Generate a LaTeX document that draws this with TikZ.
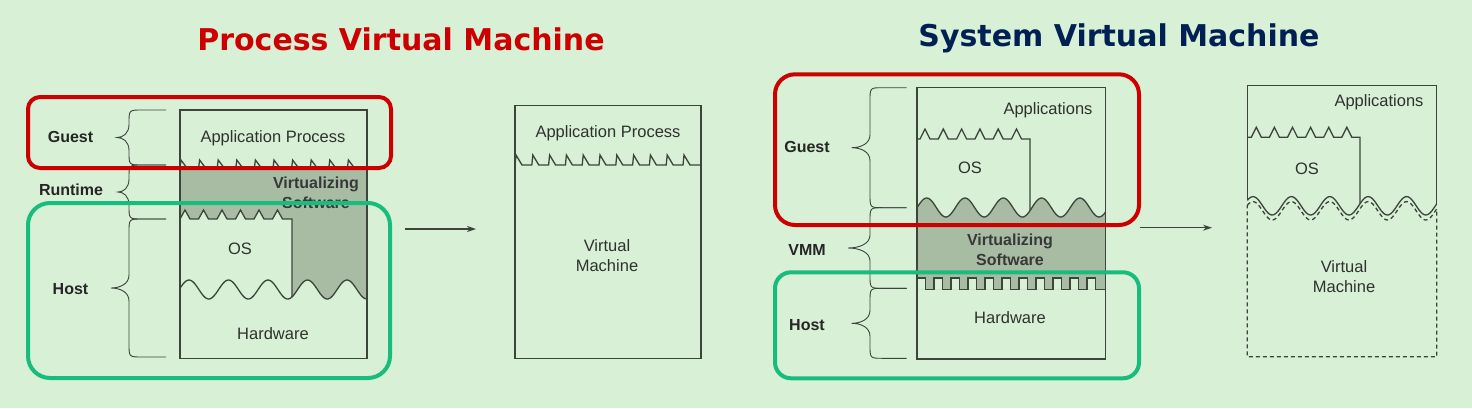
\documentclass[tikz,border=0pt]{standalone}
\usepackage{fontspec}
\setmainfont{Liberation Sans}
\newfontfamily\titlefont{DejaVu Sans}
\usetikzlibrary{arrows.meta}

\definecolor{bgreen}{RGB}{216,240,214}
\definecolor{vgray}{RGB}{168,188,164}
\definecolor{lined}{RGB}{60,68,60}
\definecolor{txt}{RGB}{46,50,46}
\definecolor{boxred}{RGB}{204,0,0}
\definecolor{boxgreen}{RGB}{24,188,124}
\definecolor{navy}{RGB}{0,32,84}

\tikzset{
	layer/.style = {draw=lined, line width=1.3pt},
	bracel/.style = {draw=lined, line width=0.9pt},
	lbl/.style = {font=\fontsize{16.5}{20}\selectfont, text=txt, align=center, inner sep=0pt},
	side/.style = {font=\bfseries\fontsize{16}{20}\selectfont, text=black!85, inner sep=0pt},
	vsoft/.style = {font=\bfseries\fontsize{16}{20}\selectfont, text=black!78, align=center, inner sep=0pt},
	ring/.style = {line width=4pt},
	heading/.style = {font=\titlefont\bfseries\fontsize{30}{36}\selectfont, inner sep=0pt}
}

% end x, stem x, tip x, top y, bottom y
\newcommand{\sidebrace}[5]{%
	\draw[bracel] (#1,#4) -- ({#2+13},#4) .. controls (#2,#4) .. (#2,{#4+13})
		-- (#2,{(#4+#5)/2-13}) .. controls (#2,{(#4+#5)/2-4}) and ({(#2+#3)/2},{(#4+#5)/2}) .. (#3,{(#4+#5)/2})
		.. controls ({(#2+#3)/2},{(#4+#5)/2}) and (#2,{(#4+#5)/2+4}) .. (#2,{(#4+#5)/2+13})
		-- (#2,{#5-13}) .. controls (#2,#5) .. ({#2+13},#5) -- (#1,#5);}

\begin{document}
\begin{tikzpicture}[x=1pt, y=-1pt]
		\fill[bgreen] (0,0) rectangle (1472,408);
		\useasboundingbox (0,0) rectangle (1472,408);
		
		\node[heading, text=boxred] (title1) at (401,39) {Process Virtual Machine};
		\node[heading, text=navy] (title2) at (1119,38) {System Virtual Machine};
		
		% process vm
		\fill[vgray] (180,168) -- (367,168) -- plot[domain=367:180, samples=120] (\x,{289.5-9.5*cos((\x-189)/39.5*360)}) -- cycle;
		\fill[bgreen] (180,219) \foreach \k in {1,...,6} { -- ++(5,-9) -- ++(5,9) -- ++(8.5,0) } -- (292,219)
			-- plot[domain=292:180, samples=80] (\x,{289.5-9.5*cos((\x-189)/39.5*360)}) -- cycle;
		
		\begin{scope}[layer]
			\draw (180,110) rectangle (367,358.7);
			\draw (180,168) \foreach \k in {1,...,10} { -- ++(1,-8) -- ++(6,8) -- ++(11.6,0) } -- (367,168);
			\draw (180,219) \foreach \k in {1,...,6} { -- ++(5,-9) -- ++(5,9) -- ++(8.5,0) } -- (292,219)
				-- (292,{289.5-9.5*cos((292-189)/39.5*360)});
			\draw plot[domain=180:367, samples=120] (\x,{289.5-9.5*cos((\x-189)/39.5*360)});
			
			\draw (515,105.7) rectangle (701,358.3);
			\draw (515,165) \foreach \k in {1,...,11} { -- ++(1,-10) -- ++(6,10) -- ++(9.8,0) } -- (701,165);
		\end{scope}
		
		\node[lbl] (appL) at (273,138) {Application Process};
		\node[vsoft] (virtL) at (316,193) {Virtualizing\\Software};
		\node[lbl] (osL) at (240,249) {OS};
		\node[lbl] (hwL) at (273,334) {Hardware};
		\node[lbl] (appV) at (608,133) {Application Process};
		\node[lbl] (vmV) at (607,256) {Virtual\\Machine};
		
		\sidebrace{166}{129}{117}{110}{165}
		\sidebrace{166}{129}{118}{165}{219}
		\sidebrace{166}{129}{111}{219}{357}
		\node[side] (guestL) at (70.5,137) {Guest};
		\node[side] (runtimeL) at (71,190) {Runtime};
		\node[side] (hostL) at (70.5,289) {Host};
		
		% system vm
		\fill[vgray] plot[domain=917:1105.7, samples=120] (\x,{207.5-9.5*cos((\x-926.7)/38.3*360)}) -- (1105.7,289.5) -- (917,289.5) -- cycle;
		\fill[bgreen] (917,289.5) \foreach \k in {1,...,11} { -- ++(0,-11.5) -- ++(8.5,0) -- ++(0,11.5) -- ++(8.5,0) } -- (1105.7,289.5) -- cycle;
		
		\begin{scope}[layer]
			\draw (917,87.7) rectangle (1105.7,359);
			\draw (917,139) -- ++(3,0) \foreach \k in {1,...,6} { -- ++(5,-10) -- ++(5,10) -- ++(8.3,0) } -- (1030,139)
				-- (1030,{207.5-9.5*cos((1030-926.7)/38.3*360)});
			\draw plot[domain=917:1105.7, samples=120] (\x,{207.5-9.5*cos((\x-926.7)/38.3*360)});
			\draw (917,289.5) \foreach \k in {1,...,11} { -- ++(0,-11.5) -- ++(8.5,0) -- ++(0,11.5) -- ++(8.5,0) } -- (1105.7,289.5);
			
			\draw (1247.3,{205.8-9.2*cos((1247.3-1253)/38.4*360)}) -- (1247.3,85.7) -- (1436.7,85.7)
				-- (1436.7,{205.8-9.2*cos((1436.7-1253)/38.4*360)});
			\draw plot[domain=1247.3:1436.7, samples=120] (\x,{205.8-9.2*cos((\x-1253)/38.4*360)});
			\draw (1247.3,137.3) -- ++(4,0) \foreach \k in {1,...,6} { -- ++(5,-10) -- ++(5,10) -- ++(8.1,0) } -- (1360,137.3)
				-- (1360,{205.8-9.2*cos((1360-1253)/38.4*360)});
			\draw[dash pattern=on 4pt off 3pt] plot[domain=1247.3:1436.7, samples=120] (\x,{210.8-9.2*cos((\x-1253)/38.4*360)})
				-- (1436.7,356.7) -- (1247.3,356.7) -- cycle;
		\end{scope}
		
		\node[lbl] (appsR) at (1048,110) {Applications};
		\node[lbl] (osR) at (970,168) {OS};
		\node[vsoft] (virtR) at (1010,250) {Virtualizing\\Software};
		\node[lbl] (hwR) at (1010,318) {Hardware};
		\node[lbl] (appsV) at (1379,102) {Applications};
		\node[lbl] (osV) at (1307,169) {OS};
		\node[lbl] (vmV2) at (1344,277) {Virtual\\Machine};
		
		\sidebrace{906.7}{870}{851.7}{87.7}{207.7}
		\sidebrace{906.7}{870}{848}{207.7}{288.3}
		\sidebrace{906.7}{870}{851.7}{288.3}{358.3}
		\node[side] (guestR) at (807,147) {Guest};
		\node[side] (vmmR) at (807,250) {VMM};
		\node[side] (hostR) at (807,325) {Host};
		
		\coordinate (arr1s) at (405,229);
		\coordinate (arr1e) at (476,229);
		\coordinate (arr2s) at (1140,227.7);
		\coordinate (arr2e) at (1212,227.7);
		\begin{scope}[-{Stealth[length=9pt, width=6pt]}, draw=lined, line width=1.2pt]
			\draw (arr1s) -- (arr1e);
			\draw (arr2s) -- (arr2e);
		\end{scope}
		
		\begin{scope}[ring]
			\draw[boxred, rounded corners=12pt] (28,97) rectangle (391,168);
			\draw[boxgreen, rounded corners=22pt] (28,203) rectangle (390,378);
			\draw[boxred, rounded corners=20pt] (775,74.3) rectangle (1139,225);
			\draw[boxgreen, rounded corners=16pt] (775,272.3) rectangle (1139,378.3);
		\end{scope}
	\end{tikzpicture}
\end{document}
